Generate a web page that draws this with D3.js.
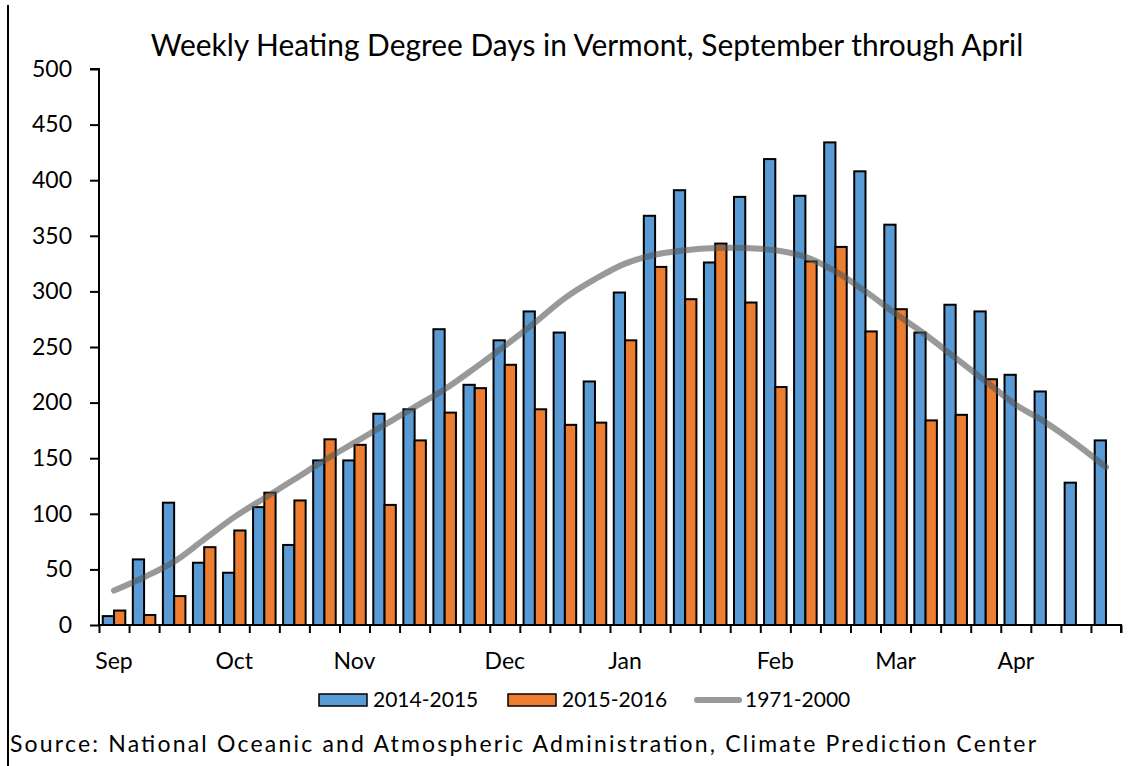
<!DOCTYPE html>
<html>
<head>
<meta charset="utf-8">
<script src="https://cdn.jsdelivr.net/npm/d3@7"></script>
<style>
  body { margin: 0; background: #fff; }
  text { font-family: Lato, "Open Sans", sans-serif; fill: #000; }
</style>
</head>
<body>
<svg id="chart" width="1146" height="766"></svg>
<script>
// Weekly heating degree days, one entry per week from early Sep to late Apr
var monthLabels = ["Sep","","","","Oct","","","","Nov","","","","","Dec","","","",
                   "Jan","","","","","Feb","","","","Mar","","","","Apr","","",""];
var hdd1415 = [8,59,110,56,47,106,72,148,148,190,194,266,216,256,282,263,219,299,
               368,391,326,385,419,386,434,408,360,263,288,282,225,210,128,166];
var hdd1516 = [13,9,26,70,85,119,112,167,162,108,166,191,213,234,194,180,182,256,
               322,293,343,290,214,327,340,264,284,184,189,221];
var normal7100 = [31,43,57,77,97,114,131,148,164,180,196,212,231,251,272,294,311,325,
                  333,337,339,339,337,331,318,300,280,261,240,219,198,182,163,142];
var yTicks = [0,50,100,150,200,250,300,350,400,450,500];
var seriesNames = ["2014-2015","2015-2016","1971-2000"];

var blue = "#5B9BD5", orange = "#ED7D31";

var $svg = d3.select("#chart");
// plot edges (note: "top" is reserved on window, so use pTop etc.)
var pLeft = 99, pRight = 1121, pTop = 69, pBottom = 625;

var weeks = monthLabels.map((d,i)=>i);

var x = d3.scaleBand().domain(weeks).range([pLeft, pRight])
    .paddingInner(0.25).paddingOuter(0.125);
var xSub = d3.scaleBand().domain([0,1]).range([0, x.bandwidth()]);
var xEdge = d3.scaleLinear().domain([0, weeks.length]).range([pLeft, pRight]);
var y = d3.scaleLinear().domain([0, 500]).range([pBottom, pTop]);

// frame line on the far left
$svg.append("line")
    .attr("x1", 8).attr("x2", 8).attr("y1", 5).attr("y2", 766)
    .attr("stroke", "#000").attr("stroke-width", 2);

// title
var $title = $svg.append("text")
    .attr("x", 587).attr("y", 56)
    .attr("text-anchor", "middle")
    .attr("font-size", 28)
    .text("Weekly Heating Degree Days in Vermont, September through April");
fitWidth($title, 873);

// bars
function drawBars(vals, sub, color){
    $svg.append("g").selectAll("rect")
        .data(vals)
        .join("rect")
        .attr("x", (d,i)=>x(i) + xSub(sub))
        .attr("width", xSub.bandwidth())
        .attr("y", d=>y(d))
        .attr("height", d=>y(0) - y(d))
        .attr("fill", color)
        .attr("stroke", "#000")
        .attr("stroke-width", 2);
}
drawBars(hdd1415, 0, blue);
drawBars(hdd1516, 1, orange);

// smoothed normal line
var line = d3.line()
    .x((d,i)=>x(i) + x.bandwidth()/2)
    .y(d=>y(d))
    .curve(d3.curveCatmullRom.alpha(0.5));
$svg.append("path")
    .datum(normal7100)
    .attr("d", line)
    .attr("fill", "none")
    .attr("stroke", "#555")
    .attr("stroke-opacity", 0.6)
    .attr("stroke-width", 6)
    .attr("stroke-linecap", "round");

// y axis
var $yAxis = $svg.append("g")
    .attr("transform", `translate(${pLeft},0)`)
    .call(d3.axisLeft(y).tickValues(yTicks).tickSize(9).tickPadding(18));
$yAxis.select(".domain").attr("stroke-width", 2).attr("d", `M-9,${pTop}H0V${pBottom}`);
$yAxis.selectAll(".tick line").attr("stroke-width", 2);
$yAxis.selectAll("text").attr("font-size", 23).attr("font-family", "Lato");

// x axis: ticks between weeks, month labels centred on their week
var $xTicks = $svg.append("g")
    .attr("transform", `translate(0,${pBottom})`)
    .call(d3.axisBottom(xEdge).tickValues(d3.range(weeks.length + 1)).tickSize(8).tickFormat(""));
$xTicks.select(".domain").attr("stroke-width", 2).attr("d", `M${pLeft},0H${pRight}V8`);
$xTicks.selectAll(".tick line").attr("stroke-width", 2);

var $xLabels = $svg.append("g")
    .attr("transform", `translate(0,${pBottom})`)
    .call(d3.axisBottom(x).tickSize(0).tickPadding(28).tickFormat(i=>monthLabels[i]));
$xLabels.select(".domain").remove();
$xLabels.selectAll("text").attr("font-size", 23).attr("font-family", "Lato");

// legend
var legendX = [319, 508, 694];
var $legend = $svg.append("g").attr("transform", "translate(0,700)");
seriesNames.forEach((name, i)=>{
    var $item = $legend.append("g").attr("transform", `translate(${legendX[i]},0)`);
    if (i < 2){
        $item.append("rect")
            .attr("x", 0).attr("y", -6).attr("width", 48).attr("height", 12)
            .attr("fill", i==0 ? blue : orange)
            .attr("stroke", "#000").attr("stroke-width", 1.5);
    } else {
        $item.append("line")
            .attr("x1", 3).attr("x2", 45).attr("y1", 0).attr("y2", 0)
            .attr("stroke", "#555").attr("stroke-opacity", 0.6)
            .attr("stroke-width", 6).attr("stroke-linecap", "round");
    }
    $item.append("text")
        .attr("x", i < 2 ? 54 : 51).attr("y", 0).attr("dy", "0.35em")
        .attr("font-size", 21)
        .text(name);
});

// source note, letters spread out a little as in the original
$svg.append("text")
    .attr("x", 10).attr("y", 752)
    .attr("font-size", 23)
    .attr("textLength", 1026)
    .attr("lengthAdjust", "spacing")
    .text("Source: National Oceanic and Atmospheric Administration, Climate Prediction Center");

// scale font so the text spans the wanted width
function fitWidth($t, w){
    var cur = $t.node().getComputedTextLength();
    var fs = parseFloat($t.attr("font-size"));
    $t.attr("font-size", fs * w / cur);
}
</script>
</body>
</html>
